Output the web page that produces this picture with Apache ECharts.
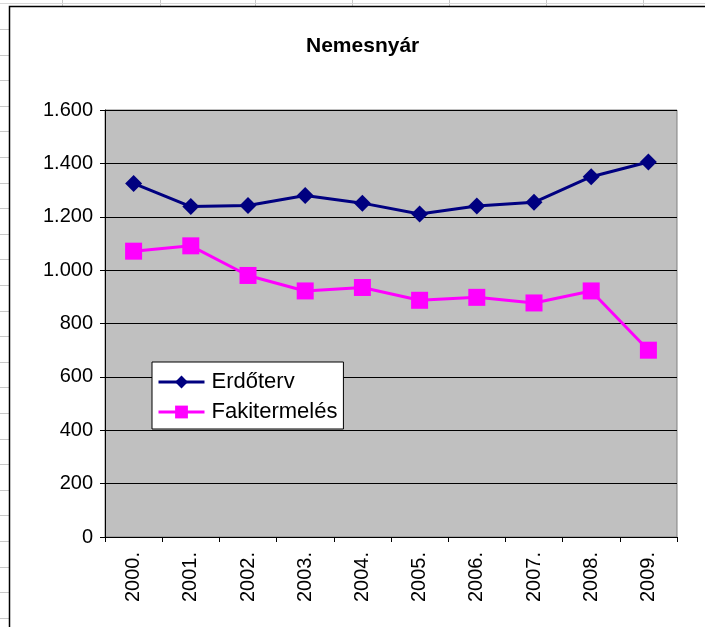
<!DOCTYPE html>
<html>
<head>
<meta charset="utf-8">
<title>Nemesnyár</title>
<script src="https://cdn.jsdelivr.net/npm/echarts@6/dist/echarts.min.js"></script>
<style>
  html, body { margin: 0; padding: 0; background: #fff; }
  #chart { width: 705px; height: 627px; }
</style>
</head>
<body>
<div id="chart"></div>
<script>
// adatok
var years = ['2000.', '2001.', '2002.', '2003.', '2004.', '2005.', '2006.', '2007.', '2008.', '2009.'];
var erdoterv = [1325, 1238, 1242, 1280, 1251, 1210, 1240, 1254, 1350, 1405];
var fakitermeles = [1071, 1091, 980, 922, 935, 887, 898, 877, 922, 700];
var yTicks = [0, 200, 400, 600, 800, 1000, 1200, 1400, 1600];

var FONT = '"Liberation Sans", Arial, sans-serif';

/* ezres elválasztó ponttal (1.600) */
function fmt(v) {
  if (v < 1000) return String(v);
  return Math.floor(v / 1000) + '.' + String(v % 1000).padStart(3, '0');
}

/* táblázat rácsvonalai a diagram körül */
function sheetLines() {
  var els = [];
  var xs = [62, 160, 255, 352, 449, 546, 643];
  xs.forEach(function (x) {
    els.push({ type: 'line', z: -100, shape: { x1: x + 0.5, y1: 0, x2: x + 0.5, y2: 7 }, style: { stroke: '#c8c8c8', lineWidth: 1 } });
  });
  for (var y = 29; y < 627; y += 25.6) {
    var yy = Math.round(y) + 0.5;
    els.push({ type: 'line', z: -100, shape: { x1: 0, y1: yy, x2: 9, y2: yy }, style: { stroke: '#c8c8c8', lineWidth: 1 } });
  }
  els.push({ type: 'line', z: -100, shape: { x1: 0, y1: 3.5, x2: 705, y2: 3.5 }, style: { stroke: '#d8d8d8', lineWidth: 1 } });
  // diagramterület kerete
  els.push({ type: 'rect', z: -90, shape: { x: 9.5, y: 6.5, width: 800, height: 700 }, style: { fill: '#fff', stroke: '#000', lineWidth: 1.5 } });
  return els;
}

var chart = echarts.init(document.getElementById('chart'));

chart.setOption({
  animation: false,
  backgroundColor: '#fff',
  textStyle: { fontFamily: FONT },
  graphic: sheetLines(),
  title: {
    text: 'Nemesnyár',
    left: 306,
    top: 36,
    padding: 0,
    textStyle: { fontFamily: FONT, fontSize: 21, fontWeight: 'bold', color: '#000' }
  },
  legend: {
    orient: 'vertical',
    left: 152,
    top: 362,
    padding: [9, 6, 6, 5],
    itemGap: 8,
    itemWidth: 46,
    itemHeight: 16,
    backgroundColor: '#fff',
    borderColor: '#000',
    borderWidth: 1,
    borderRadius: 0,
    z: 10,
    lineStyle: { width: 3 },
    textStyle: { fontFamily: FONT, fontSize: 22, color: '#000', padding: [0, 0, 0, 2] },
    data: ['Erdőterv', 'Fakitermelés']
  },
  grid: {
    left: 105,
    right: 28,
    top: 110,
    bottom: 90,
    outerBoundsMode: 'none',
    show: true,
    backgroundColor: '#c0c0c0',
    borderColor: '#808080',
    borderWidth: 1
  },
  xAxis: {
    type: 'category',
    data: years,
    boundaryGap: true,
    axisLine: { lineStyle: { color: '#000', width: 1 } },
    axisTick: { show: true, length: 5, lineStyle: { color: '#000' } },
    axisLabel: { rotate: 90, margin: 15, fontFamily: FONT, fontSize: 20, color: '#000' }
  },
  yAxis: {
    type: 'value',
    min: yTicks[0],
    max: yTicks[yTicks.length - 1],
    interval: 200,
    axisLine: { show: true, lineStyle: { color: '#000', width: 1 } },
    axisTick: { show: true, length: 5, lineStyle: { color: '#000' } },
    splitLine: { lineStyle: { color: '#000', width: 1 } },
    axisLabel: { formatter: fmt, margin: 12, fontFamily: FONT, fontSize: 20, color: '#000' }
  },
  series: [
    {
      name: 'Erdőterv',
      type: 'line',
      data: erdoterv,
      color: '#000080',
      symbol: 'diamond',
      symbolSize: 17,
      lineStyle: { width: 3, color: '#000080' },
      itemStyle: { color: '#000080' }
    },
    {
      name: 'Fakitermelés',
      type: 'line',
      data: fakitermeles,
      color: '#ff00ff',
      symbol: 'rect',
      symbolSize: 17,
      lineStyle: { width: 3, color: '#ff00ff' },
      itemStyle: { color: '#ff00ff' }
    }
  ]
});
</script>
</body>
</html>
